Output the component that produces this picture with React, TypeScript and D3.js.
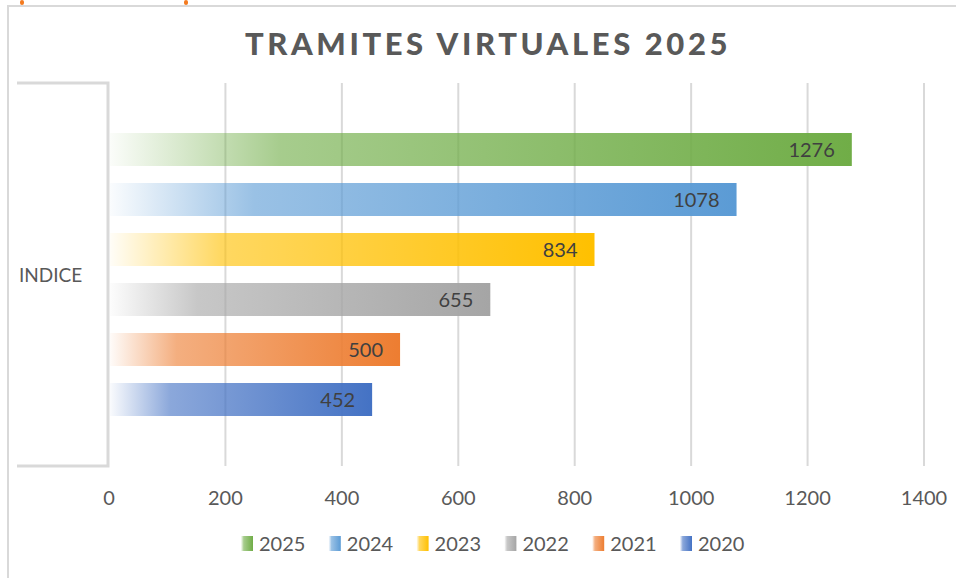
import React from "react";
import * as d3 from "d3";

const seriesNames = ["2025", "2024", "2023", "2022", "2021", "2020"];
const seriesValues = [1276, 1078, 834, 655, 500, 452];
const seriesColors = ["#70AD47", "#5B9BD5", "#FFC000", "#A5A5A5", "#ED7D31", "#4472C4"];
const categoryLabel = "INDICE";
const xTicks = [0, 200, 400, 600, 800, 1000, 1200, 1400];
const title = "TRAMITES VIRTUALES 2025";

const W = 956;
const H = 578;
const FONT = "Lato, 'Open Sans', sans-serif";

export default function App() {
  const x = d3.scaleLinear().domain([0, 1400]).range([109, 924]);
  const plotTop = 83;
  const plotBottom = 466;
  const y = d3
    .scaleBand<string>()
    .domain(seriesNames)
    .range([plotTop, plotBottom])
    .paddingInner(0.34)
    .paddingOuter(1.0);

  const legendX = d3.scalePoint<string>().domain(seriesNames).range([241, 680]);

  return (
    <svg
      width={W}
      height={H}
      style={{ position: "absolute", left: 0, top: 0, display: "block", background: "#fff" }}
      fontFamily={FONT}
    >
      <defs>
        {seriesNames.map((s, i) => (
          <linearGradient key={s} id={`g${i}`} x1="0" x2="1" y1="0" y2="0">
            <stop offset="0" stopColor={seriesColors[i]} stopOpacity={0.03} />
            <stop offset="0.23" stopColor={seriesColors[i]} stopOpacity={0.62} />
            <stop offset="1" stopColor={seriesColors[i]} stopOpacity={1} />
          </linearGradient>
        ))}
      </defs>

      {/* stray orange marks at top */}
      <rect x={20} y={0} width={4} height={5} rx={2} fill="#F47B20" />
      <rect x={184} y={0} width={4} height={5} rx={2} fill="#F47B20" />

      {/* chart frame */}
      <path d={`M8,${H} V6 H${W}`} fill="none" stroke="#D9D9D9" strokeWidth={2} />

      {/* title */}
      <text
        x={488}
        y={55}
        textAnchor="middle"
        fontSize={31}
        fontWeight={900}
        fill="#595959"
        letterSpacing={3.6}
      >
        {title}
      </text>

      {/* gridlines */}
      {xTicks.slice(1).map((t) => (
        <line key={t} x1={x(t)} x2={x(t)} y1={plotTop} y2={plotBottom} stroke="#D9D9D9" strokeWidth={2} />
      ))}

      {/* bracket / category axis */}
      <path
        d={`M17,${plotTop} H108 V${plotBottom} H17`}
        fill="none"
        stroke="#D9D9D9"
        strokeWidth={3}
      />
      <text x={19} y={282} fontSize={19} fill="#595959">
        {categoryLabel}
      </text>

      {/* bars */}
      {seriesNames.map((s, i) => (
        <g key={s}>
          <rect
            x={x(0) + 1}
            y={y(s)}
            width={x(seriesValues[i]) - x(0) - 1}
            height={y.bandwidth()}
            fill={`url(#g${i})`}
          />
          <text
            x={x(seriesValues[i]) - 17}
            y={(y(s) as number) + y.bandwidth() / 2 + 7}
            textAnchor="end"
            fontSize={20}
            fill="#404040"
          >
            {seriesValues[i]}
          </text>
        </g>
      ))}

      {/* x tick labels */}
      {xTicks.map((t) => (
        <text key={t} x={x(t)} y={505} textAnchor="middle" fontSize={20} fill="#595959">
          {t}
        </text>
      ))}

      {/* legend */}
      {seriesNames.map((s, i) => (
        <g key={s}>
          <rect x={legendX(s)} y={536} width={12} height={15} fill={`url(#g${i})`} />
          <text x={(legendX(s) as number) + 18} y={551} fontSize={20} fill="#595959">
            {s}
          </text>
        </g>
      ))}
    </svg>
  );
}
